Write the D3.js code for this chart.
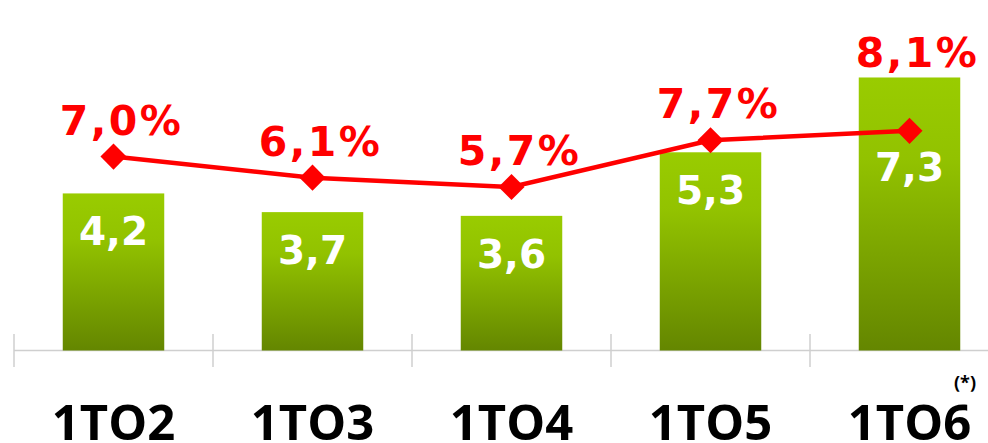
<!DOCTYPE html>
<html><head><meta charset="utf-8">
<script src="https://cdn.jsdelivr.net/npm/d3@7/dist/d3.min.js"></script>
<style>html,body{margin:0;padding:0;background:#fff;overflow:hidden}</style>
</head><body>
<svg id="c" width="988" height="443"></svg>
<script>
const categories = ["1TO2", "1TO3", "1TO4", "1TO5", "1TO6"];
const barValues = [4.2, 3.7, 3.6, 5.3, 7.3];
const barLabels = ["4,2", "3,7", "3,6", "5,3", "7,3"];
const pctValues = [7.0, 6.1, 5.7, 7.7, 8.1];
const pctLabels = ["7,0%", "6,1%", "5,7%", "7,7%", "8,1%"];
const footnote = "(*)";

const svg = d3.select("#c");
const W = 988, H = 443;
const baseY = 350.5;

const x = d3.scaleBand().domain(categories).range([14, 14 + 199 * 5]).padding(0);
const yBar = d3.scaleLinear().domain([0, 10]).range([baseY, baseY - 374]);
const yLine = d3.scaleLinear().domain([0, 10]).range([320.4, 86.4]);
const barW = x.bandwidth() * 0.51;
const cx = c => x(c) + x.bandwidth() / 2;

const defs = svg.append("defs");
const grad = defs.append("linearGradient").attr("id", "g").attr("x1", 0).attr("y1", 0).attr("x2", 0).attr("y2", 1);
grad.append("stop").attr("offset", "0%").attr("stop-color", "#99cc00");
grad.append("stop").attr("offset", "30%").attr("stop-color", "#92c200");
grad.append("stop").attr("offset", "100%").attr("stop-color", "#648600");

// axis line and ticks
const axisG = svg.append("g");
axisG.append("line").attr("x1", 14).attr("x2", W).attr("y1", baseY).attr("y2", baseY)
  .attr("stroke", "#cfcfcf").attr("stroke-width", 1.5);
axisG.selectAll("line.tick").data(categories).enter().append("line").attr("class", "tick")
  .attr("x1", d => x(d)).attr("x2", d => x(d)).attr("y1", 334).attr("y2", 367)
  .attr("stroke", "#cfcfcf").attr("stroke-width", 1.5);

// bars
svg.selectAll("rect.bar").data(barValues).enter().append("rect").attr("class", "bar")
  .attr("x", (d, i) => cx(categories[i]) - barW / 2)
  .attr("y", d => yBar(d))
  .attr("width", barW)
  .attr("height", d => baseY - yBar(d))
  .attr("fill", "url(#g)");

// line
const line = d3.line().x((d, i) => cx(categories[i])).y(d => yLine(d));
svg.append("path").datum(pctValues).attr("d", line).attr("fill", "none")
  .attr("stroke", "#ff0000").attr("stroke-width", 4.5);

svg.selectAll("path.dia").data(pctValues).enter().append("path").attr("class", "dia")
  .attr("d", d3.symbol().type(d3.symbolSquare).size(340))
  .attr("transform", (d, i) => `translate(${cx(categories[i])},${yLine(d)}) rotate(45)`)
  .attr("fill", "#ff0000");

// bar value labels
svg.selectAll("text.bl").data(barValues).enter().append("text").attr("class", "bl")
  .attr("x", (d, i) => cx(categories[i]))
  .attr("y", (d, i) => Math.max(yBar(d) + 52, yLine(pctValues[i]) + 50))
  .attr("text-anchor", "middle")
  .attr("font-family", "DejaVu Sans").attr("font-weight", "bold").attr("font-size", 39)
  .attr("fill", "#ffffff")
  .text((d, i) => barLabels[i]);

// percent labels
svg.selectAll("text.pl").data(pctValues).enter().append("text").attr("class", "pl")
  .attr("x", (d, i) => cx(categories[i]) + 8)
  .attr("y", (d, i) => Math.min(yLine(d) - 22, yBar(barValues[i]) - 10))
  .attr("text-anchor", "middle")
  .attr("font-family", "DejaVu Sans").attr("font-weight", "bold").attr("font-size", 41)
  .attr("letter-spacing", 2.5)
  .attr("fill", "#ff0000")
  .text((d, i) => pctLabels[i]);

// category labels
svg.selectAll("text.cat").data(categories).enter().append("text").attr("class", "cat")
  .attr("x", d => cx(d))
  .attr("y", 440)
  .attr("text-anchor", "middle")
  .attr("font-family", "Open Sans").attr("font-weight", "bold").attr("font-size", 49)
  .attr("fill", "#000")
  .text(d => d);

svg.append("text").attr("x", 976).attr("y", 389).attr("text-anchor", "end")
  .attr("font-family", "Open Sans").attr("font-weight", "bold").attr("font-size", 18)
  .attr("fill", "#000").text(footnote);
</script>
</body></html>
